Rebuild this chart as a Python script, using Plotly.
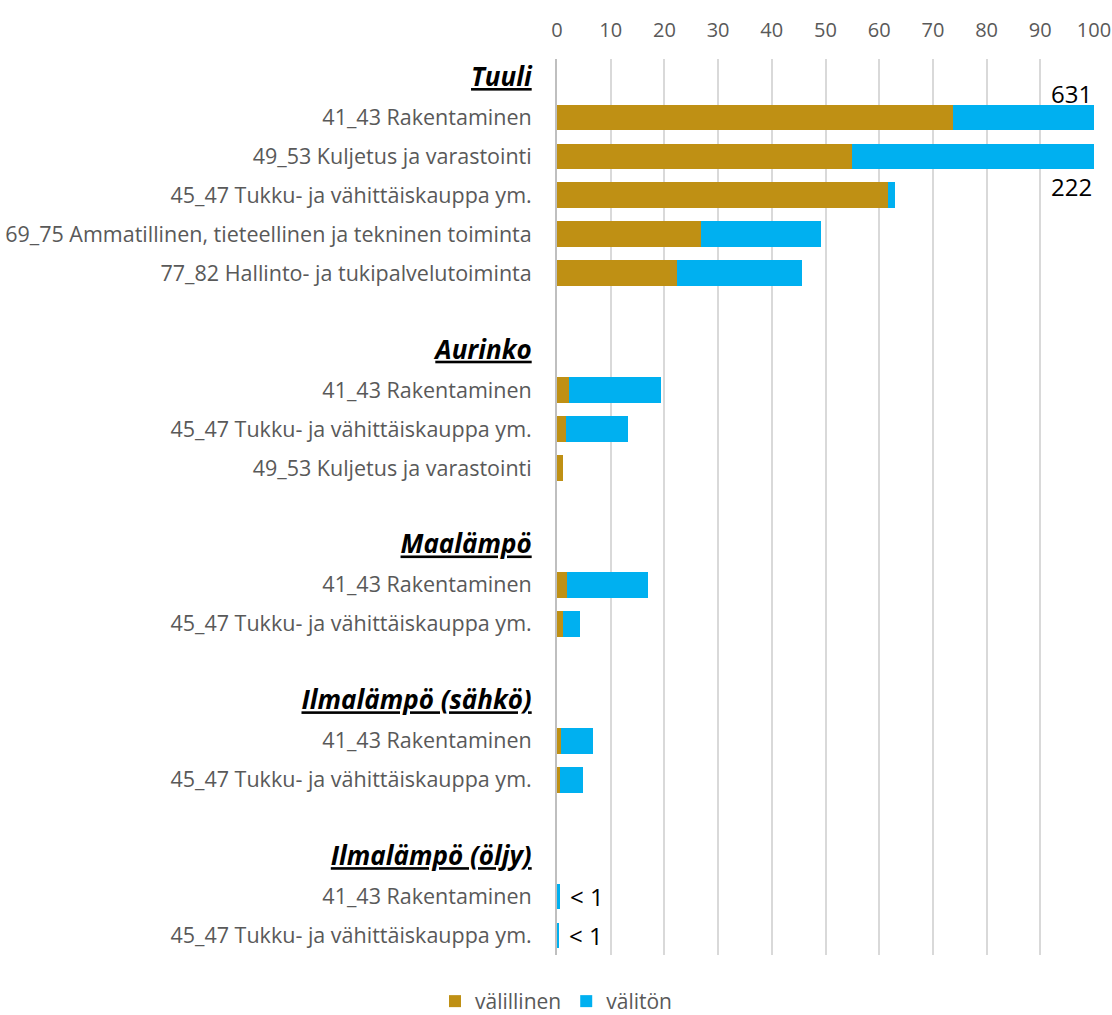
import plotly.graph_objects as go

# ---------------- data ----------------
groups = ["Tuuli", "Aurinko", "Maalämpö", "Ilmalämpö (sähkö)", "Ilmalämpö (öljy)"]

tuuli_industries = ["41_43 Rakentaminen", "49_53 Kuljetus ja varastointi",
                    "45_47 Tukku- ja vähittäiskauppa ym.",
                    "69_75 Ammatillinen, tieteellinen ja tekninen toiminta",
                    "77_82 Hallinto- ja tukipalvelutoiminta"]
tuuli_valillinen = [73.7, 55.0, 61.7, 26.8, 22.3]
tuuli_valiton = [557.3, 167.0, 1.2, 22.4, 23.3]

aurinko_industries = ["41_43 Rakentaminen", "45_47 Tukku- ja vähittäiskauppa ym.",
                      "49_53 Kuljetus ja varastointi"]
aurinko_valillinen = [2.2, 1.7, 1.1]
aurinko_valiton = [17.2, 11.5, 0.0]

maalampo_industries = ["41_43 Rakentaminen", "45_47 Tukku- ja vähittäiskauppa ym."]
maalampo_valillinen = [1.8, 1.2]
maalampo_valiton = [15.2, 3.1]

sahko_industries = ["41_43 Rakentaminen", "45_47 Tukku- ja vähittäiskauppa ym."]
sahko_valillinen = [0.8, 0.5]
sahko_valiton = [5.9, 4.4]

oljy_industries = ["41_43 Rakentaminen", "45_47 Tukku- ja vähittäiskauppa ym."]
oljy_valillinen = [0.02, 0.02]
oljy_valiton = [0.45, 0.3]

series_names = ["välillinen", "välitön"]
x_ticks = [0, 10, 20, 30, 40, 50, 60, 70, 80, 90, 100]

group_data = [
    (tuuli_industries, tuuli_valillinen, tuuli_valiton),
    (aurinko_industries, aurinko_valillinen, aurinko_valiton),
    (maalampo_industries, maalampo_valillinen, maalampo_valiton),
    (sahko_industries, sahko_valillinen, sahko_valiton),
    (oljy_industries, oljy_valillinen, oljy_valiton),
]

# ---------------- layout of rows ----------------
FONT = "Open Sans"
GRAY = "#595959"
GOLD = "#BF9014"
BLUE = "#00B0F0"

ys, v1, v2 = [], [], []
tickvals, ticktext = [], []
row = 0
for gi, (g, (inds, a, b)) in enumerate(zip(groups, group_data)):
    tickvals.append(row)
    ticktext.append(f'<span style="font-size:26px;color:#000000"><b><i><u>{g}</u></i></b></span>')
    row += 1
    for name, va, vb in zip(inds, a, b):
        tickvals.append(row)
        ticktext.append(name)
        ys.append(row)
        v1.append(va)
        v2.append(vb)
        row += 1
    if gi < len(groups) - 1:
        row += 1
n_rows = row

fig = go.Figure()
fig.add_trace(go.Bar(y=ys, x=v1, orientation="h", name=series_names[0],
                     marker=dict(color=GOLD, line=dict(width=0))))
fig.add_trace(go.Bar(y=ys, x=v2, orientation="h", name=series_names[1],
                     marker=dict(color=BLUE, line=dict(width=0))))

# data labels
annotations = []
for i, (y, a, b) in enumerate(zip(ys, v1, v2)):
    tot = a + b
    if tot > 100:
        shift = 24 if i == 0 else -30
        annotations.append(dict(x=100, y=y, xref="x", yref="y", text=f"{round(tot)}",
                                showarrow=False, xanchor="right", yshift=shift, xshift=0,
                                font=dict(family=FONT, size=24, color="#000000")))
    elif tot < 1:
        annotations.append(dict(x=tot, y=y, xref="x", yref="y", text="< 1",
                                showarrow=False, xanchor="left", xshift=8,
                                font=dict(family=FONT, size=24, color="#000000")))

fig.update_layout(
    width=1112, height=1015,
    barmode="stack", bargap=0.34,
    paper_bgcolor="white", plot_bgcolor="white",
    margin=dict(l=557, r=18, t=59, b=60, autoexpand=False),
    font=dict(family=FONT, size=20, color=GRAY),
    annotations=annotations,
    legend=dict(orientation="h", xref="container", yref="paper",
                x=0.5, xanchor="center", y=-0.029, yanchor="top",
                font=dict(family=FONT, size=21, color=GRAY),
                traceorder="normal", itemwidth=30),
    xaxis=dict(side="top", range=[0, 100], tickvals=x_ticks, automargin=False,
               showgrid=True, gridcolor="#D9D9D9", gridwidth=1.5,
               zeroline=False, showline=False, ticks="", ticklabelstandoff=17,
               tickfont=dict(family=FONT, size=20, color=GRAY), fixedrange=True),
    yaxis=dict(range=[n_rows - 0.5, -0.5], tickvals=tickvals, ticktext=ticktext,
               automargin=False,
               showgrid=False, zeroline=False, showline=True, linecolor="#BFBFBF",
               linewidth=2, ticks="", ticklabelstandoff=19,
               tickfont=dict(family=FONT, size=21.5, color=GRAY)),
)

fig.write_html("out.html")
